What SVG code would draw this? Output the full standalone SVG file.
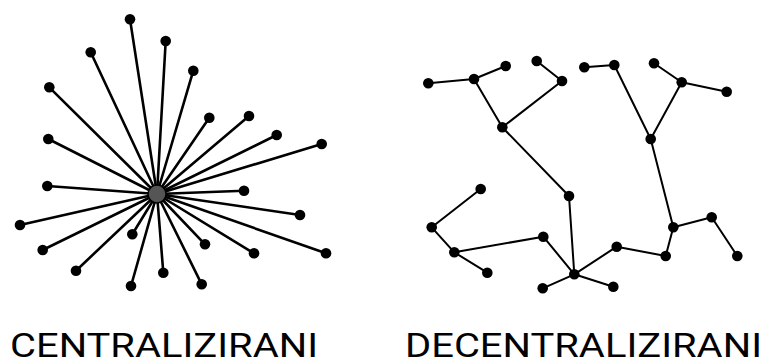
<svg xmlns="http://www.w3.org/2000/svg" width="764" height="362" viewBox="0 0 764 362">
<style>
.e{stroke:#000;stroke-width:2.6;stroke-linecap:round}
.t{stroke:#000;stroke-width:2;stroke-linecap:round}
.n{fill:#000}
.c{fill:#555;stroke:#000;stroke-width:1.5}
.lbl{font-family:Roboto,"Liberation Sans",sans-serif;font-size:33px;fill:#000}
</style>
<rect width="764" height="362" fill="#fff"/>
<g id="connectors">
<g class="e">
<line x1="157" y1="194" x2="130" y2="19.3"/>
<line x1="157" y1="194" x2="165.7" y2="41"/>
<line x1="157" y1="194" x2="90.7" y2="52.3"/>
<line x1="157" y1="194" x2="193.3" y2="70.7"/>
<line x1="157" y1="194" x2="49.3" y2="87.3"/>
<line x1="157" y1="194" x2="209.3" y2="117.7"/>
<line x1="157" y1="194" x2="249" y2="116"/>
<line x1="157" y1="194" x2="48.3" y2="139"/>
<line x1="157" y1="194" x2="276.7" y2="135"/>
<line x1="157" y1="194" x2="321.7" y2="144"/>
<line x1="157" y1="194" x2="47.3" y2="186"/>
<line x1="157" y1="194" x2="244" y2="190.7"/>
<line x1="157" y1="194" x2="20" y2="225"/>
<line x1="157" y1="194" x2="300" y2="215"/>
<line x1="157" y1="194" x2="42.7" y2="250"/>
<line x1="157" y1="194" x2="132.3" y2="234.3"/>
<line x1="157" y1="194" x2="205" y2="244.3"/>
<line x1="157" y1="194" x2="254" y2="253.3"/>
<line x1="157" y1="194" x2="326" y2="253.3"/>
<line x1="157" y1="194" x2="76" y2="270.7"/>
<line x1="157" y1="194" x2="163.3" y2="272.7"/>
<line x1="157" y1="194" x2="131" y2="286"/>
<line x1="157" y1="194" x2="201.7" y2="284.3"/>
</g>
<g class="t">
<line x1="428.3" y1="83.3" x2="474" y2="79"/>
<line x1="474" y1="79" x2="505.7" y2="66"/>
<line x1="474" y1="79" x2="502.3" y2="127.3"/>
<line x1="536.7" y1="61" x2="562" y2="81"/>
<line x1="562" y1="81" x2="502.3" y2="127.3"/>
<line x1="502.3" y1="127.3" x2="569" y2="196"/>
<line x1="569" y1="196" x2="574.3" y2="274.3"/>
<line x1="584.3" y1="67.3" x2="614.3" y2="65"/>
<line x1="614.3" y1="65" x2="650.7" y2="139"/>
<line x1="654" y1="63.3" x2="681.7" y2="82.3"/>
<line x1="681.7" y1="82.3" x2="726.7" y2="91.7"/>
<line x1="681.7" y1="82.3" x2="650.7" y2="139"/>
<line x1="650.7" y1="139" x2="673.3" y2="227.3"/>
<line x1="673.3" y1="227.3" x2="711.7" y2="217.3"/>
<line x1="711.7" y1="217.3" x2="737.3" y2="256"/>
<line x1="673.3" y1="227.3" x2="665.7" y2="256"/>
<line x1="665.7" y1="256" x2="616.7" y2="246.7"/>
<line x1="616.7" y1="246.7" x2="574.3" y2="274.3"/>
<line x1="480.7" y1="189" x2="431.7" y2="227.3"/>
<line x1="431.7" y1="227.3" x2="454.3" y2="252.3"/>
<line x1="454.3" y1="252.3" x2="543.3" y2="236.7"/>
<line x1="454.3" y1="252.3" x2="487.3" y2="272.7"/>
<line x1="543.3" y1="236.7" x2="574.3" y2="274.3"/>
<line x1="574.3" y1="274.3" x2="542.7" y2="288.3"/>
<line x1="574.3" y1="274.3" x2="613.3" y2="286.7"/>
</g>
</g>
<g id="centralized">
<g id="hub"><circle class="c" cx="157" cy="194" r="9"/></g>
<g id="c1"><circle class="n" cx="130" cy="19.3" r="5.3"/></g>
<g id="c2"><circle class="n" cx="165.7" cy="41" r="5.3"/></g>
<g id="c3"><circle class="n" cx="90.7" cy="52.3" r="5.3"/></g>
<g id="c4"><circle class="n" cx="193.3" cy="70.7" r="5.3"/></g>
<g id="c5"><circle class="n" cx="49.3" cy="87.3" r="5.3"/></g>
<g id="c6"><circle class="n" cx="209.3" cy="117.7" r="5.3"/></g>
<g id="c7"><circle class="n" cx="249" cy="116" r="5.3"/></g>
<g id="c8"><circle class="n" cx="48.3" cy="139" r="5.3"/></g>
<g id="c9"><circle class="n" cx="276.7" cy="135" r="5.3"/></g>
<g id="c10"><circle class="n" cx="321.7" cy="144" r="5.3"/></g>
<g id="c11"><circle class="n" cx="47.3" cy="186" r="5.3"/></g>
<g id="c12"><circle class="n" cx="244" cy="190.7" r="5.3"/></g>
<g id="c13"><circle class="n" cx="20" cy="225" r="5.3"/></g>
<g id="c14"><circle class="n" cx="300" cy="215" r="5.3"/></g>
<g id="c15"><circle class="n" cx="42.7" cy="250" r="5.3"/></g>
<g id="c16"><circle class="n" cx="132.3" cy="234.3" r="5.3"/></g>
<g id="c17"><circle class="n" cx="205" cy="244.3" r="5.3"/></g>
<g id="c18"><circle class="n" cx="254" cy="253.3" r="5.3"/></g>
<g id="c19"><circle class="n" cx="326" cy="253.3" r="5.3"/></g>
<g id="c20"><circle class="n" cx="76" cy="270.7" r="5.3"/></g>
<g id="c21"><circle class="n" cx="163.3" cy="272.7" r="5.3"/></g>
<g id="c22"><circle class="n" cx="131" cy="286" r="5.3"/></g>
<g id="c23"><circle class="n" cx="201.7" cy="284.3" r="5.3"/></g>
</g>
<g id="decentralized">
<g id="dA"><circle class="n" cx="428.3" cy="83.3" r="5.3"/></g>
<g id="dB"><circle class="n" cx="474" cy="79" r="5.3"/></g>
<g id="dC"><circle class="n" cx="505.7" cy="66" r="5.3"/></g>
<g id="dD"><circle class="n" cx="536.7" cy="61" r="5.3"/></g>
<g id="dE"><circle class="n" cx="562" cy="81" r="5.3"/></g>
<g id="dF"><circle class="n" cx="502.3" cy="127.3" r="5.3"/></g>
<g id="dG"><circle class="n" cx="584.3" cy="67.3" r="5.3"/></g>
<g id="dH"><circle class="n" cx="614.3" cy="65" r="5.3"/></g>
<g id="dI"><circle class="n" cx="654" cy="63.3" r="5.3"/></g>
<g id="dJ"><circle class="n" cx="681.7" cy="82.3" r="5.3"/></g>
<g id="dK"><circle class="n" cx="726.7" cy="91.7" r="5.3"/></g>
<g id="dL"><circle class="n" cx="650.7" cy="139" r="5.3"/></g>
<g id="dM"><circle class="n" cx="569" cy="196" r="5.3"/></g>
<g id="dN"><circle class="n" cx="480.7" cy="189" r="5.3"/></g>
<g id="dO"><circle class="n" cx="431.7" cy="227.3" r="5.3"/></g>
<g id="dP"><circle class="n" cx="543.3" cy="236.7" r="5.3"/></g>
<g id="dQ"><circle class="n" cx="454.3" cy="252.3" r="5.3"/></g>
<g id="dR"><circle class="n" cx="487.3" cy="272.7" r="5.3"/></g>
<g id="dS"><circle class="n" cx="574.3" cy="274.3" r="5.3"/></g>
<g id="dT"><circle class="n" cx="542.7" cy="288.3" r="5.3"/></g>
<g id="dU"><circle class="n" cx="613.3" cy="286.7" r="5.3"/></g>
<g id="dV"><circle class="n" cx="616.7" cy="246.7" r="5.3"/></g>
<g id="dW"><circle class="n" cx="665.7" cy="256" r="5.3"/></g>
<g id="dX"><circle class="n" cx="673.3" cy="227.3" r="5.3"/></g>
<g id="dY"><circle class="n" cx="711.7" cy="217.3" r="5.3"/></g>
<g id="dZ"><circle class="n" cx="737.3" cy="256" r="5.3"/></g>
</g>
<g id="labels">
<text class="lbl" x="10" y="356.5" textLength="308" lengthAdjust="spacingAndGlyphs">CENTRALIZIRANI</text>
<text class="lbl" x="405" y="356.5" textLength="357" lengthAdjust="spacingAndGlyphs">DECENTRALIZIRANI</text>
</g>
</svg>
